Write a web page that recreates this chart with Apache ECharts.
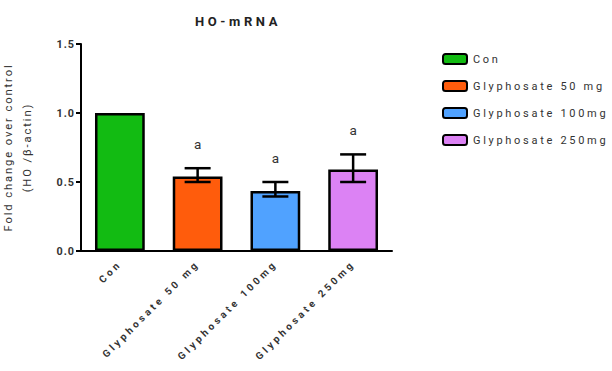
<!DOCTYPE html>
<html><head><meta charset="utf-8">
<script src="https://cdn.jsdelivr.net/npm/echarts@6/dist/echarts.min.js"></script>
<style>
html,body{margin:0;padding:0;background:#fff}
#c{width:612px;height:371px}
#c text[style*="13px"]{letter-spacing:3.6px}
#c text[style*="11px"]{letter-spacing:2.7px}
#c text[style*="10px"]{letter-spacing:3.2px}
#c text[style*="11.2px"]{letter-spacing:1.9px}
#c text[style*="10.8px"]{letter-spacing:1px}
</style>
</head><body><div id="c"></div>
<script>
const categories = ['Con', 'Glyphosate 50 mg', 'Glyphosate 100mg', 'Glyphosate 250mg'];
const legendNames = ['Con', 'Glyphosate 50 mg', 'Glyphosate 100mg', 'Glyphosate 250mg'];
const means = [1.0, 0.54, 0.435, 0.59];
const errLower = [null, 0.50, 0.395, 0.50];
const errUpper = [null, 0.60, 0.50, 0.70];
const sigLetters = ['', 'a', 'a', 'a'];
const yTicks = [0, 0.5, 1.0, 1.5];
const colors = ['#12bb12', '#ff5c0c', '#50a2ff', '#dc82f4'];

const chart = echarts.init(document.getElementById('c'), null, { renderer: 'svg' });
const font = 'Roboto, "Liberation Sans", sans-serif';

const barSeries = categories.map((c, i) => ({
  name: legendNames[i],
  type: 'bar',
  data: categories.map((_, j) => j === i ? means[j] : '-'),
  barGap: '-100%',
  barCategoryGap: '36%',
  itemStyle: { color: colors[i], borderColor: '#000', borderWidth: 2.5 },
  z: 2
}));

const errData = categories.map((c, i) => [i, errLower[i], errUpper[i], sigLetters[i]]).filter(d => d[1] !== null);

const option = {
  animation: false,
  title: {
    text: 'HO-mRNA', left: 233, textAlign: 'center', top: 10,
    textStyle: { fontFamily: font, fontSize: 13, fontWeight: 'bold', color: '#222' }
  },
  legend: {
    orient: 'vertical', left: 437, top: 48, itemWidth: 24, itemHeight: 10, itemGap: 15,
    data: legendNames,
    itemStyle: { borderColor: '#000', borderWidth: 2 },
    textStyle: { fontFamily: font, fontSize: 11, color: '#333', padding: [0, 0, 0, 1] }
  },
  grid: { left: 81, right: 220, top: 44, bottom: 120, containLabel: false, outerBoundsMode: 'none' },
  xAxis: {
    type: 'category', data: categories,
    axisLine: { lineStyle: { color: '#000', width: 2 } },
    axisTick: { alignWithLabel: true, length: 5, lineStyle: { color: '#000', width: 2 } },
    axisLabel: { rotate: 45, fontFamily: font, fontSize: 10, fontWeight: 'bold', color: '#333', margin: 11 }
  },
  yAxis: {
    type: 'value', min: yTicks[0], max: yTicks[yTicks.length - 1], interval: 0.5,
    name: 'Fold change over control\n(HO /β-actin)', nameLocation: 'middle', nameGap: 44,
    nameTextStyle: { fontFamily: font, fontSize: 11.2, color: '#333', lineHeight: 19, align: 'center' },
    splitLine: { show: false },
    axisLine: { show: true, lineStyle: { color: '#000', width: 2 } },
    axisTick: { show: true, length: 5, lineStyle: { color: '#000', width: 2 } },
    axisLabel: { formatter: v => v.toFixed(1), fontFamily: font, fontSize: 10.8, fontWeight: 'bold', color: '#333', margin: 6 }
  },
  series: barSeries.concat([{
    type: 'custom',
    data: errData,
    z: 5,
    renderItem: function (params, api) {
      const x = api.value(0);
      const lo = api.coord([x, api.value(1)]);
      const hi = api.coord([x, api.value(2)]);
      const half = 13;
      const st = { stroke: '#000', lineWidth: 2.5 };
      return {
        type: 'group',
        children: [
          { type: 'line', shape: { x1: lo[0], y1: lo[1], x2: hi[0], y2: hi[1] }, style: st },
          { type: 'line', shape: { x1: hi[0] - half, y1: hi[1], x2: hi[0] + half, y2: hi[1] }, style: st },
          { type: 'line', shape: { x1: lo[0] - half, y1: lo[1], x2: lo[0] + half, y2: lo[1] }, style: st },
          { type: 'text', style: { text: api.value(3), x: hi[0], y: hi[1] - 24, align: 'center', verticalAlign: 'middle',
            fontFamily: font, fontSize: 13.5, fill: '#333' } }
        ]
      };
    }
  }])
};
chart.setOption(option);
</script></body></html>
